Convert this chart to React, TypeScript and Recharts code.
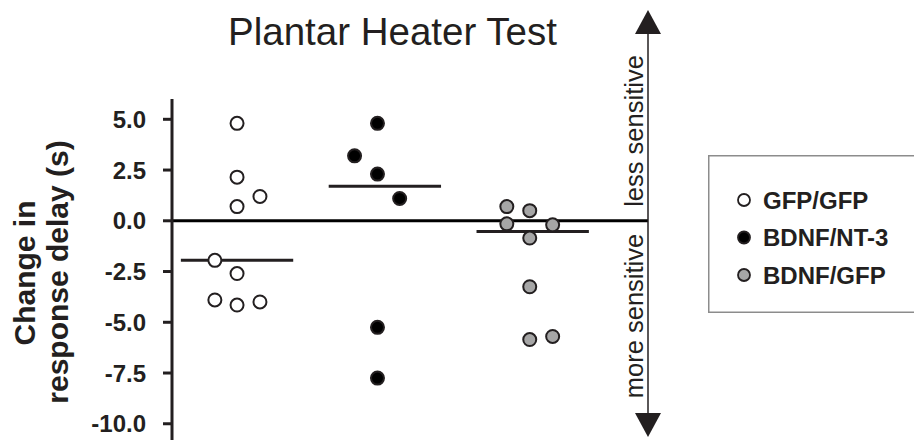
import React from 'react'
import { Legend, ReferenceLine, Scatter, ScatterChart, XAxis, YAxis } from 'recharts'

const FONT = '"Liberation Sans", Arial, sans-serif'
const INK = '#231f20'

const GROUPS = ['GFP/GFP', 'BDNF/NT-3', 'BDNF/GFP']
const GROUP_POS = [1, 2, 3]
const FILLS = ['#ffffff', '#000000', '#a6a6a6']

// x = group position + small horizontal spread, y = change in response delay (s)
const gfpX = [1.0, 1.0, 1.155, 1.0, 0.85, 1.0, 0.85, 1.0, 1.155]
const gfpY = [4.8, 2.15, 1.2, 0.7, -1.95, -2.6, -3.9, -4.15, -4.0]

const ntX = [1.95, 1.795, 1.95, 2.1, 1.95, 1.95]
const ntY = [4.8, 3.2, 2.3, 1.1, -5.25, -7.75]

const bgX = [2.825, 2.98, 2.825, 3.135, 2.98, 2.98, 3.135, 2.98]
const bgY = [0.7, 0.5, -0.15, -0.2, -0.85, -3.25, -5.7, -5.85]

const Y_TICKS = [5, 2.5, 0, -2.5, -5, -7.5, -10]

const toPoints = (xs: number[], ys: number[]) => xs.map((x, i) => ({ x, y: ys[i] }))

function median(vals: number[]) {
  const s = [...vals].sort((a, b) => a - b)
  const m = Math.floor(s.length / 2)
  return s.length % 2 ? s[m] : (s[m - 1] + s[m]) / 2
}

const series = [toPoints(gfpX, gfpY), toPoints(ntX, ntY), toPoints(bgX, bgY)]
const medians = [median(gfpY), median(ntY), median(bgY)]

const dotShape = (fill: string) => (p: any) => (
  <circle cx={p.cx} cy={p.cy} r={6.5} fill={fill} stroke={INK} strokeWidth={2} />
)

function Tick({ x, y, payload }: any) {
  return (
    <text x={x} y={y} dy={8.5} textAnchor="end" fontSize={24} fontWeight="bold" fill={INK} fontFamily={FONT}>
      {Number(payload.value).toFixed(1)}
    </text>
  )
}

function LegendBox() {
  return (
    <svg width={220} height={158}>
      <rect x={0.75} y={0.75} width={230} height={156.5} fill="#fff" stroke="#8c8c8c" strokeWidth={1.5} />
      {GROUPS.map((g, i) => (
        <g key={g}>
          <circle cx={36} cy={45 + i * 37.5} r={6} fill={FILLS[i]} stroke={INK} strokeWidth={1.8} />
          <text x={55} y={53.5 + i * 37.5} fontSize={24} fontWeight="bold" fill={INK} fontFamily={FONT}>
            {g}
          </text>
        </g>
      ))}
    </svg>
  )
}

export default function App() {
  return (
    <div style={{ position: 'absolute', left: 0, top: 0, width: 914, height: 440, overflow: 'hidden', background: '#fff' }}>
      <ScatterChart width={914} height={440} margin={{ top: 99, right: 266, bottom: 0, left: 0 }}>
        <XAxis type="number" dataKey="x" domain={[0.56, 3.78]} hide allowDataOverflow />
        <YAxis
          type="number"
          dataKey="y"
          domain={[-10.8, 6]}
          ticks={Y_TICKS}
          interval={0}
          width={172}
          allowDataOverflow
          axisLine={{ stroke: INK, strokeWidth: 3 }}
          tickLine={{ stroke: INK, strokeWidth: 3 }}
          tickSize={9}
          tickMargin={17}
          tick={<Tick />}
        />
        <ReferenceLine y={0} stroke="#000" strokeWidth={3} />
        {medians.map((m, i) => (
          <ReferenceLine
            key={i}
            segment={[
              { x: GROUP_POS[i] - 0.38, y: m },
              { x: GROUP_POS[i] + 0.38, y: m },
            ]}
            stroke={INK}
            strokeWidth={3}
          />
        ))}
        {series.map((d, i) => (
          <Scatter key={GROUPS[i]} name={GROUPS[i]} data={d} shape={dotShape(FILLS[i])} isAnimationActive={false} />
        ))}
        <Legend
          layout="horizontal"
          verticalAlign="middle"
          align="center"
          wrapperStyle={{ left: 708, top: 155, width: 220, height: 158 }}
          content={() => <LegendBox />}
        />
      </ScatterChart>
      <svg width={914} height={440} style={{ position: 'absolute', left: 0, top: 0, pointerEvents: 'none' }}>
        <text x={392.5} y={45} textAnchor="middle" fontSize={38.5} fill={INK} fontFamily={FONT}>
          Plantar Heater Test
        </text>
        <g fontFamily={FONT} fontWeight="bold" fontSize={30} fill={INK} textAnchor="middle">
          <text transform="translate(35,273) rotate(-90)">Change in</text>
          <text transform="translate(68,272) rotate(-90)">response delay (s)</text>
        </g>
        <line x1={648} y1={30} x2={648} y2={416} stroke={INK} strokeWidth={1.5} />
        <polygon points="648,10 635,34 661,34" fill={INK} />
        <polygon points="635,413 661,413 648,437" fill={INK} />
        <g fontFamily={FONT} fontSize={25.5} fill={INK} textAnchor="middle">
          <text transform="translate(643,131) rotate(-90)">less sensitive</text>
          <text transform="translate(643,316) rotate(-90)">more sensitive</text>
        </g>
      </svg>
    </div>
  )
}
